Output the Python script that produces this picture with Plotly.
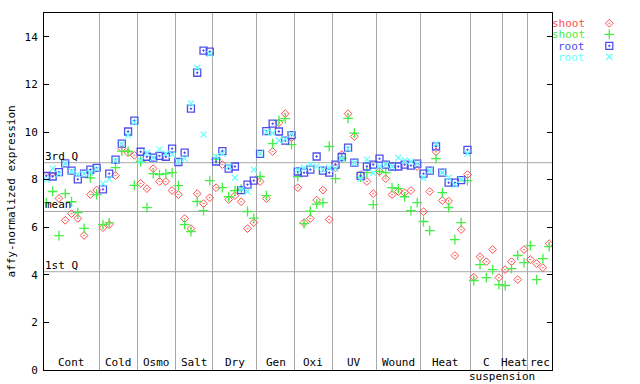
import plotly.graph_objects as go

# ---------------- data ----------------
group_names = ["Cont", "Cold", "Osmo", "Salt", "Dry", "Gen", "Oxi", "UV",
               "Wound", "Heat", "C", "Heat", "rec"]
group_sizes = [9, 6, 6, 6, 7, 6, 6, 7, 7, 8, 5, 4, 4]

shoot_red = [8.15, 8.30, 7.21, 6.29, 6.57, 6.37, 5.65, 7.37, 7.56,
             5.98, 6.11, 8.17, 9.31, 9.13, 9.02,
             7.84, 7.62, 8.46, 7.92, 7.92, 7.54,
             7.37, 6.36, 5.94, 7.41, 6.99, 7.24,
             7.66, 8.63, 7.16, 7.33, 7.07, 5.94, 6.19,
             7.92, 7.20, 9.18, 10.39, 10.77, 9.76,
             7.66, 6.19, 6.36, 7.14, 7.56, 6.32,
             8.50, 9.05, 10.77, 9.81, 8.21, 7.92, 7.41,
             8.34, 8.04, 7.37, 7.50, 7.45, 7.54, 8.55,
             6.65, 7.50, 9.17, 7.12, 7.10, 4.81, 5.90, 8.21,
             3.90, 4.76, 4.55, 5.06, 3.88,
             4.22, 4.55, 3.80, 5.06,
             4.64, 4.47, 4.30, 5.31]

shoot_green = [7.03, 7.50, 5.65, 7.41, 7.07, 6.61, 5.95, 8.07, 7.37,
               6.11, 6.18, 8.50, 9.20, 9.18, 7.76,
               8.76, 6.82, 8.25, 8.21, 8.25, 8.29,
               7.75, 6.11, 5.82, 7.08, 6.70, 7.96,
               8.85, 7.66, 7.28, 7.54, 7.60, 6.66, 6.38,
               8.13, 7.33, 9.51, 10.48, 10.56, 9.47,
               8.13, 6.15, 6.67, 6.97, 7.03, 9.39,
               8.04, 8.90, 10.57, 9.95, 8.10, 8.29, 6.95,
               8.34, 8.29, 7.66, 7.62, 7.28, 6.70, 7.03,
               6.24, 5.86, 8.88, 7.45, 6.82, 5.48, 6.19, 7.96,
               3.76, 4.43, 3.88, 4.22, 3.59,
               3.55, 4.26, 4.81, 4.51,
               5.23, 3.80, 4.68, 5.18]

root_blue = [8.16, 8.13, 8.31, 8.68, 8.38, 8.01, 8.25, 8.42, 8.49,
             7.59, 8.25, 8.84, 9.51, 10.02, 10.48,
             9.17, 8.96, 8.92, 9.00, 8.96, 9.30,
             8.74, 9.13, 10.98, 12.49, 13.42, 13.38,
             8.76, 9.20, 8.46, 8.55, 7.56, 7.79, 7.96,
             9.08, 10.04, 10.35, 10.02, 9.64, 9.87,
             8.34, 8.29, 8.42, 8.97, 8.38, 8.29,
             8.63, 8.95, 9.34, 8.71, 8.16, 8.55, 8.63,
             8.88, 8.63, 8.55, 8.55, 8.63, 8.59, 8.67,
             8.25, 8.38, 9.40, 8.29, 7.87, 7.87, 7.98, 9.25,
             None, None, None, None, None,
             None, None, None, None,
             None, None, None, None]

root_cyan = [8.00, 8.46, 8.25, 8.68, 8.35, 8.22, 8.25, 8.30, 8.45,
             7.83, 8.01, 8.80, 9.50, 9.86, 10.40,
             8.80, 9.13, 8.92, 9.27, 9.10, 9.05,
             8.76, 8.88, 11.20, 12.70, 9.89, 13.29,
             8.97, 9.09, 8.55, 8.08, 7.60, 7.50, 8.42,
             9.10, 10.00, 9.96, 9.64, 9.70, 9.90,
             8.40, 8.50, 8.63, 8.55, 8.42, 8.50,
             8.46, 8.90, 9.30, 8.71, 8.04, 8.84, 8.29,
             8.55, 8.63, 8.55, 8.92, 8.80, 8.76, 8.67,
             8.08, 8.38, 9.50, 8.30, 8.08, 7.79, 8.00, 9.10,
             None, None, None, None, None,
             None, None, None, None,
             None, None, None, None]

quartile_names = ["3rd Q", "mean", "1st Q"]
quartile_values = [8.71, 6.66, 4.13]

series_names = ["shoot", "shoot", "root", "root"]
y_ticks = [0, 2, 4, 6, 8, 10, 12, 14]
sub_label = "suspension"

# ---------------- styling ----------------
FONT = "DejaVu Sans Mono"
GRID = "#a8a8a8"
colors = ["#ff4d4d", "#44ee44", "#4d4dee", "#66ffff"]
symbols = ["diamond-open-dot", "cross-thin-open", "square-open-dot", "x-thin-open"]
sizes = [6, 7, 7, 6]
widths = [1, 1.3, 1.3, 1.3]

# layout geometry (pixels)
W, H = 640, 384
ML, MR, MT, MB = 44, 15, 13, 14
PLOT_R = 552                        # right edge of the data area
paper_w = W - ML - MR
main_end = (PLOT_R - ML) / paper_w  # domain end of main x axis
leg_w = W - MR - PLOT_R             # width of legend strip (pixels)

n = sum(group_sizes)
xs = list(range(n))
x_range = [-0.38, 80.45]
y_range = [0, 15]

fig = go.Figure()
for vals, col, sym, sz, lw in zip([shoot_red, shoot_green, root_blue, root_cyan],
                                   colors, symbols, sizes, widths):
    fig.add_trace(go.Scatter(
        x=xs, y=vals, mode="markers",
        marker=dict(symbol=sym, size=sz, color=col, line=dict(color=col, width=lw)),
        showlegend=False, hoverinfo="skip"))

# group boundaries and label centres
bounds = []
centres = []
start = 0
for i, s in enumerate(group_sizes):
    lo = x_range[0] if i == 0 else start - 0.5
    hi = x_range[1] if i == len(group_sizes) - 1 else start + s - 0.5
    if i > 0:
        bounds.append(start - 0.5)
    centres.append((lo + hi) / 2)
    start += s

annotations = []
for name, c in zip(group_names, centres):
    annotations.append(dict(x=c, y=0, xref="x", yref="y", text=name,
                            showarrow=False, xanchor="center", yanchor="bottom",
                            yshift=-1, font=dict(family=FONT, size=11, color="black")))
annotations.append(dict(x=bounds[-2], y=-0.019, xref="x", yref="paper", text=sub_label,
                        showarrow=False, xanchor="center", yanchor="middle",
                        font=dict(family=FONT, size=11, color="black")))

shapes = []
for name, v in zip(quartile_names, quartile_values):
    shapes.append(dict(type="line", xref="x", x0=x_range[0], x1=x_range[1],
                       yref="y", y0=v, y1=v,
                       line=dict(color=GRID, width=1), layer="below"))
    annotations.append(dict(x=0, y=v, xref="x domain", yref="y", text=name,
                            showarrow=False, xanchor="left", yanchor="bottom",
                            xshift=-1, yshift=-2,
                            font=dict(family=FONT, size=11, color="black")))

# axis title
annotations.append(dict(x=(11 - ML) / paper_w, y=0.5, xref="paper", yref="paper",
                        text="affy-normalized expression", textangle=-90,
                        showarrow=False, xanchor="center", yanchor="middle",
                        font=dict(family=FONT, size=11, color="black")))

# legend: text right-aligned, key marker to its right (in a strip axis)
leg_rows = [14.57, 14.10, 13.62, 13.16]
leg_text_x = 586 - PLOT_R
leg_key_x = 609.3 - PLOT_R
for name, col, sym, sz, lw, yv in zip(series_names, colors, symbols, sizes, widths, leg_rows):
    annotations.append(dict(x=leg_text_x, y=yv, xref="x2", yref="y2", text=name,
                            showarrow=False, xanchor="right", yanchor="middle",
                            borderpad=0, height=10,
                            font=dict(family=FONT, size=11, color=col)))
    fig.add_trace(go.Scatter(
        x=[leg_key_x], y=[yv], xaxis="x2", yaxis="y2", mode="markers",
        marker=dict(symbol=sym, size=sz, color=col, line=dict(color=col, width=lw)),
        showlegend=False, hoverinfo="skip"))

fig.update_layout(
    width=W, height=H,
    margin=dict(l=ML, r=MR, t=MT, b=MB, autoexpand=False),
    paper_bgcolor="white", plot_bgcolor="white",
    showlegend=False,
    font=dict(family=FONT, size=11, color="black"),
    xaxis=dict(domain=[0, main_end], range=x_range, tickvals=bounds,
               showticklabels=False, ticks="",
               showgrid=True, gridcolor=GRID, gridwidth=1, zeroline=False,
               showline=True, linecolor="black", linewidth=1, mirror=True,
               automargin=False),
    yaxis=dict(range=y_range, tickvals=y_ticks, ticks="inside", ticklen=5,
               tickcolor="black", showgrid=False, zeroline=False,
               showline=True, linecolor="black", linewidth=1, mirror="ticks",
               automargin=False, ticklabelstandoff=3,
               tickfont=dict(family=FONT, size=11, color="black")),
    xaxis2=dict(domain=[main_end, 1], range=[0, leg_w], visible=False,
                anchor="y2", automargin=False),
    yaxis2=dict(domain=[0, 1], range=y_range, visible=False,
                anchor="x2", automargin=False),
    shapes=shapes,
    annotations=annotations,
)

fig.write_html("out.html",
               config={"displayModeBar": False},
               post_script="document.body.style.margin='0';document.body.style.overflow='hidden';")
